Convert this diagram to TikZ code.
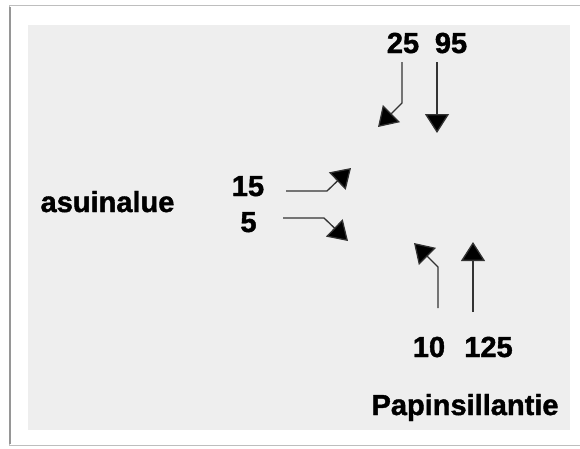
\documentclass[tikz,border=0pt]{standalone}
\usepackage{fontspec}
\setmainfont{Liberation Sans}[BoldFeatures={FakeBold=1.4}]
\usetikzlibrary{arrows.meta,positioning}
\definecolor{panelgray}{RGB}{238,238,238}
\definecolor{framegray}{RGB}{190,190,190}
\definecolor{shadegray}{RGB}{150,150,150}
\tikzstyle{numlabel} = [font=\fontsize{29}{30}\selectfont\bfseries, inner sep=0pt, anchor=base]
\tikzstyle{flow} = [line width=1.3pt, draw=black!80, -{Triangle[length=19pt,width=24pt,fill=black]}]

\begin{document}
\begin{tikzpicture}[x=1pt,y=-1pt]
% page and panel
\fill[white] (0,0) rectangle (580,448);
\useasboundingbox (0,0) rectangle (580,448);
\draw[framegray, line width=1pt] (9,5) rectangle (590,445);
\draw[shadegray, line width=2pt] (10,7) -- (10,444);
\fill[panelgray] (28,25) rectangle (570,430);

% labels
\node[numlabel] (n25) at (403,53) {25};
\node[numlabel] (n95) at (451,53) {95};
\node[numlabel] (n15) at (248,196) {15};
\node[numlabel] (n5) at (248.5,232) {5};
\node[numlabel] (n10) at (429,357) {10};
\node[numlabel] (n125) at (488.5,357) {125};
\node[numlabel] (asuin) at (107.5,212) {asuinalue};
\node[numlabel] (papin) at (465,415) {Papinsillantie};

% arrow ends
\coordinate (s25) at (402,62);  \coordinate (b25) at (402,103); \coordinate (t25) at (378,127);
\coordinate (s95) at (437,62);  \coordinate (t95) at (437,133);
\coordinate (s15) at (286,191); \coordinate (b15) at (327,191); \coordinate (t15) at (351,168);
\coordinate (s5) at (283,218);  \coordinate (b5) at (324,218);  \coordinate (t5) at (348,241);
\coordinate (s10) at (438,308); \coordinate (b10) at (438,267); \coordinate (t10) at (414,243);
\coordinate (s125) at (473,312); \coordinate (t125) at (473,242);

% arrows
\draw[flow] (s25) -- (b25) -- (t25);
\draw[flow] (s95) -- (t95);
\draw[flow] (s15) -- (b15) -- (t15);
\draw[flow] (s5) -- (b5) -- (t5);
\draw[flow] (s10) -- (b10) -- (t10);
\draw[flow] (s125) -- (t125);
\end{tikzpicture}
\end{document}
